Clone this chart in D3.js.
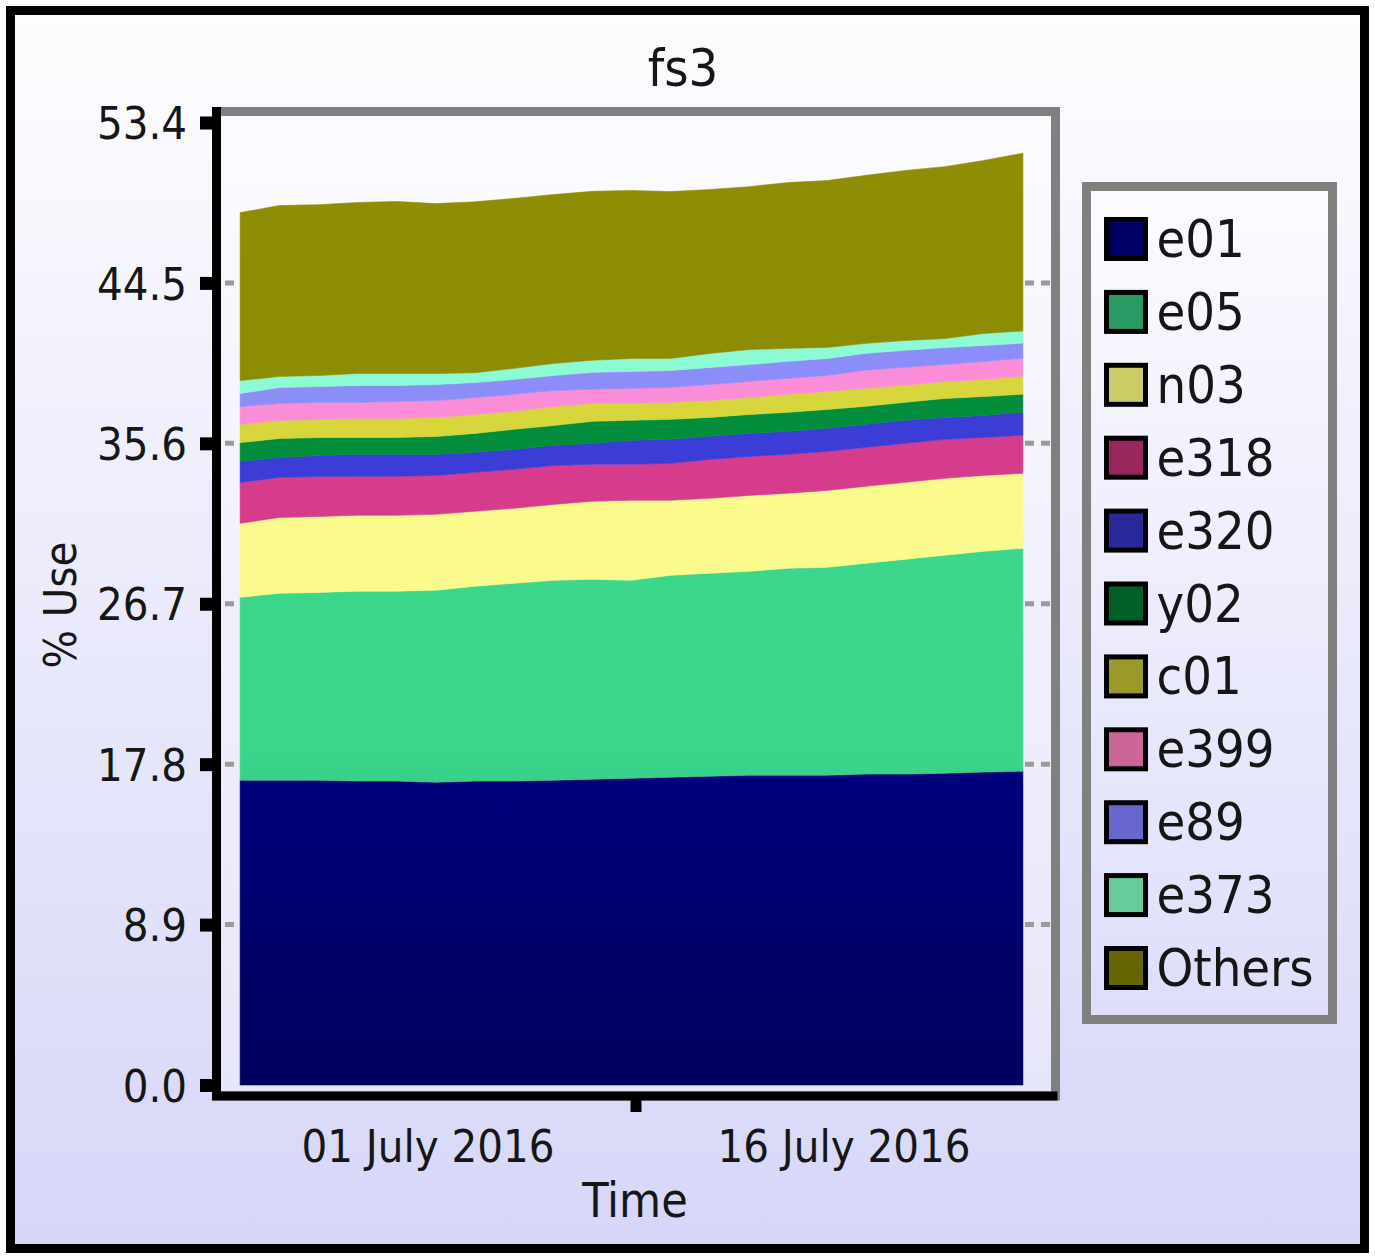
<!DOCTYPE html>
<html>
<head>
<meta charset="utf-8">
<script src="https://cdn.jsdelivr.net/npm/d3@7/dist/d3.min.js"></script>
<style>
  body { margin: 0; background: #fff; }
  text { font-family: "DejaVu Sans Condensed", "DejaVu Sans", sans-serif; fill: #161616; }
</style>
</head>
<body>
<div id="chart"></div>
<script>
// Sample times (UTC) and % use per user
const dates = ['2016-07-01T18:00Z', '2016-07-03T05:00Z', '2016-07-04T16:00Z', '2016-07-06T03:00Z',
               '2016-07-07T14:00Z', '2016-07-09T01:00Z', '2016-07-10T12:00Z', '2016-07-11T23:00Z',
               '2016-07-13T10:00Z', '2016-07-14T21:00Z', '2016-07-16T08:00Z', '2016-07-17T19:00Z',
               '2016-07-19T06:00Z', '2016-07-20T17:00Z', '2016-07-22T04:00Z', '2016-07-23T15:00Z',
               '2016-07-25T02:00Z', '2016-07-26T13:00Z', '2016-07-28T00:00Z', '2016-07-29T11:00Z',
               '2016-07-30T22:00Z'];
const e01    = [16.91, 16.91, 16.91, 16.86, 16.86, 16.80, 16.86, 16.86, 16.91, 16.97, 17.02, 17.08, 17.13, 17.19, 17.19, 17.19, 17.25, 17.25, 17.30, 17.36, 17.41];
const e05    = [10.15, 10.37, 10.42, 10.54, 10.54, 10.65, 10.81, 10.98, 11.09, 11.09, 10.98, 11.20, 11.26, 11.31, 11.48, 11.53, 11.70, 11.92, 12.09, 12.25, 12.37];
const n03    = [4.10, 4.21, 4.21, 4.21, 4.21, 4.21, 4.16, 4.16, 4.21, 4.33, 4.44, 4.16, 4.16, 4.21, 4.16, 4.27, 4.27, 4.27, 4.27, 4.21, 4.16];
const e318   = [2.27, 2.22, 2.22, 2.16, 2.16, 2.16, 2.16, 2.16, 2.16, 2.05, 2.00, 2.05, 2.16, 2.16, 2.16, 2.16, 2.16, 2.16, 2.16, 2.11, 2.11];
const e320   = [1.16, 1.11, 1.16, 1.22, 1.22, 1.16, 1.11, 1.11, 1.11, 1.16, 1.33, 1.33, 1.28, 1.28, 1.28, 1.28, 1.28, 1.28, 1.22, 1.22, 1.28];
const y02    = [1.05, 1.05, 1.00, 0.94, 0.94, 1.00, 1.05, 1.11, 1.11, 1.22, 1.11, 1.11, 1.05, 1.05, 1.05, 1.05, 1.00, 1.00, 1.05, 1.05, 1.00];
const c01    = [1.00, 1.00, 1.00, 1.05, 1.05, 1.05, 1.05, 1.00, 1.05, 1.00, 0.94, 0.94, 0.94, 0.94, 1.00, 1.00, 1.00, 0.94, 0.94, 0.94, 1.00];
const e399   = [1.00, 0.94, 0.94, 0.89, 0.94, 0.94, 0.94, 0.94, 0.89, 0.78, 0.83, 0.83, 0.89, 0.89, 0.89, 0.89, 1.00, 1.00, 0.94, 1.00, 1.00];
const e89    = [0.72, 0.89, 0.89, 0.94, 0.89, 0.89, 0.83, 0.83, 0.83, 0.94, 0.94, 0.94, 0.94, 0.94, 0.94, 0.94, 0.94, 0.94, 0.94, 0.89, 0.83];
const e373   = [0.72, 0.61, 0.61, 0.67, 0.67, 0.61, 0.55, 0.61, 0.67, 0.67, 0.72, 0.67, 0.78, 0.83, 0.72, 0.61, 0.55, 0.55, 0.50, 0.67, 0.67];
const others = [9.32, 9.48, 9.48, 9.48, 9.54, 9.43, 9.48, 9.43, 9.37, 9.37, 9.32, 9.26, 9.09, 9.04, 9.20, 9.26, 9.32, 9.43, 9.54, 9.59, 9.87];

const seriesNames = ['e01', 'e05', 'n03', 'e318', 'e320', 'y02', 'c01', 'e399', 'e89', 'e373', 'Others'];
const seriesValues = [e01, e05, n03, e318, e320, y02, c01, e399, e89, e373, others];
const areaColors   = ['#000080', '#3ad68c', '#fafa8c', '#d63a8c', '#3a3ad6', '#008c3a', '#d6d63a', '#fa8cd6', '#8c8cfa', '#8cfad6', '#8c8c00'];
const legendColors = ['#000066', '#299a63', '#cccc66', '#99275e', '#29299a', '#006028', '#9a9a2a', '#cc6699', '#6666cc', '#66cc99', '#666600'];

const yTicks = [0, 8.9, 17.8, 26.7, 35.6, 44.5, 53.4];
const periodEdges = ['2016-07-01T00:00Z', '2016-07-16T12:00Z', '2016-08-01T00:00Z'];
const periodLabels = ['01 July 2016', '16 July 2016'];

const width = 1375, height = 1257;
const plot = { left: 216.5, top: 111.5, right: 1055.5, bottom: 1096 };

// Prepare data
const table = dates.map((d, i) => {
    const row = { date: new Date(d) };
    seriesNames.forEach((name, k) => { row[name] = seriesValues[k][i]; });
    return row;
});
const stacked = d3.stack().keys(seriesNames)(table);

// Prepare scales
const x = d3.scaleUtc().domain([new Date(periodEdges[0]), new Date(periodEdges[2])]).range([220, 1052]);
const y = d3.scaleLinear().domain([0, 53.4]).range([1085, 122.5]);

const svg = d3.select('#chart').append('svg').attr('width', width).attr('height', height);
const defs = svg.append('defs');

const vGradient = (id, top, bottom, y1, y2) => {
    const g = defs.append('linearGradient').attr('id', id)
                  .attr('gradientUnits', 'userSpaceOnUse')
                  .attr('x1', 0).attr('x2', 0).attr('y1', y1).attr('y2', y2);
    g.append('stop').attr('offset', 0).attr('stop-color', top);
    g.append('stop').attr('offset', 1).attr('stop-color', bottom);
};
vGradient('bgOuter', '#fdfdff', '#d6d6f8', 10, 1250);
vGradient('bgPlot', '#fbfbff', '#e6e6f9', 110, 1096);
vGradient('bgLegend', '#fbfbff', '#dedefa', 186, 1020);
areaColors.forEach((c, i) => {
    const g = defs.append('linearGradient').attr('id', `area${i}`)
                  .attr('gradientUnits', 'userSpaceOnUse')
                  .attr('x1', 0).attr('x2', 0).attr('y1', y(53.4)).attr('y2', y(0));
    g.append('stop').attr('offset', 0).attr('stop-color', d3.interpolateRgb(c, '#fff')(0.02));
    g.append('stop').attr('offset', 0.65).attr('stop-color', c);
    g.append('stop').attr('offset', 1).attr('stop-color', d3.interpolateRgb(c, '#000')(0.27));
});

// Background and outer border
svg.append('rect').attr('x', 10.5).attr('y', 10.5).attr('width', 1354).attr('height', 1238)
   .attr('fill', 'url(#bgOuter)').attr('stroke', '#000').attr('stroke-width', 9);

// Plot background
svg.append('rect').attr('x', plot.left).attr('y', plot.top)
   .attr('width', plot.right - plot.left).attr('height', plot.bottom - plot.top)
   .attr('fill', 'url(#bgPlot)');

// Dashed grid lines (mostly hidden behind the areas)
svg.append('g').selectAll('line').data(yTicks.filter(t => t > 0 && t < 53.4))
   .join('line')
   .attr('x1', 225).attr('x2', 1052)
   .attr('y1', d => y(d)).attr('y2', d => y(d))
   .attr('stroke', '#9a9a9a').attr('stroke-width', 5)
   .attr('stroke-dasharray', '9 7');

// Stacked areas
const area = d3.area()
               .x(d => x(d.data.date))
               .y0(d => y(d[0]))
               .y1(d => y(d[1]));
svg.append('g').selectAll('path').data(stacked)
   .join('path')
   .attr('fill', (d, i) => `url(#area${i})`)
   .attr('stroke', (d, i) => `url(#area${i})`)
   .attr('stroke-width', 0.6)
   .attr('d', area);

// Frame: grey top/right, black left/bottom axis lines
svg.append('rect').attr('x', plot.left).attr('y', plot.top)
   .attr('width', plot.right - plot.left).attr('height', plot.bottom - plot.top)
   .attr('fill', 'none').attr('stroke', '#808080').attr('stroke-width', 9);
svg.append('path')
   .attr('d', `M${plot.left},${plot.top - 4.5}V${plot.bottom}H${plot.right + 2}`)
   .attr('fill', 'none').attr('stroke', '#000').attr('stroke-width', 9);

// Y axis
const yAxis = svg.append('g').attr('transform', 'translate(212,0)')
                 .call(d3.axisLeft(y).tickValues(yTicks).tickFormat(d3.format('.1f'))
                         .tickSize(12).tickPadding(13));
yAxis.select('.domain').remove();
yAxis.selectAll('.tick line').attr('stroke', '#000').attr('stroke-width', 13);
yAxis.selectAll('.tick text').attr('font-size', 45).attr('dy', '0.36em')
     .style('font-family', null).attr('fill', '#161616');
yAxis.attr('font-family', null);

// X axis: boundary tick between half-month periods, labels centred in periods
const edges = periodEdges.map(d => new Date(d));
svg.append('line')
   .attr('x1', x(edges[1])).attr('x2', x(edges[1]))
   .attr('y1', 1100).attr('y2', 1112)
   .attr('stroke', '#000').attr('stroke-width', 11);
svg.append('g').selectAll('text').data(periodLabels)
   .join('text')
   .attr('x', (d, i) => (x(edges[i]) + x(edges[i + 1])) / 2)
   .attr('y', 1162)
   .attr('text-anchor', 'middle')
   .attr('font-size', 45)
   .text(d => d);

// Titles
svg.append('text').attr('x', 683).attr('y', 86).attr('text-anchor', 'middle')
   .attr('font-size', 52).text('fs3');
svg.append('text').attr('x', 635).attr('y', 1217).attr('text-anchor', 'middle')
   .attr('font-size', 48).text('Time');
svg.append('text').attr('transform', 'translate(76,605) rotate(-90)').attr('text-anchor', 'middle')
   .attr('font-size', 45).text('% Use');

// Legend
svg.append('rect').attr('x', 1086.5).attr('y', 186.5).attr('width', 246).attr('height', 833)
   .attr('fill', 'url(#bgLegend)').attr('stroke', '#808080').attr('stroke-width', 9);
const legendItems = svg.append('g').selectAll('g').data(seriesNames)
                       .join('g')
                       .attr('transform', (d, i) => `translate(1106.5, ${239 + i * 72.9})`);
legendItems.append('rect')
           .attr('x', 0).attr('y', -19.5).attr('width', 39).attr('height', 39)
           .attr('fill', (d, i) => legendColors[i])
           .attr('stroke', '#000').attr('stroke-width', 5);
legendItems.append('text')
           .attr('x', 50).attr('y', 18)
           .attr('font-size', 52)
           .text(d => d);
</script>
</body>
</html>
